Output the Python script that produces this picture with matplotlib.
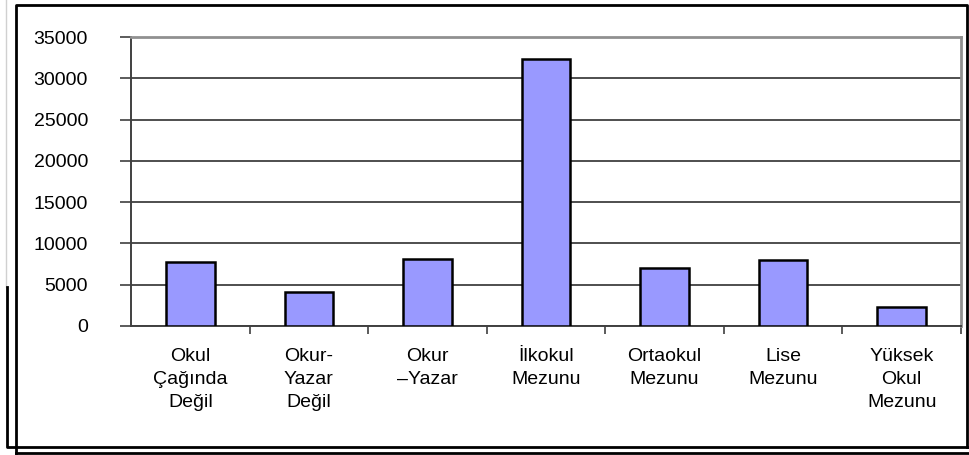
import matplotlib
matplotlib.use("Agg")
import matplotlib.pyplot as plt
from matplotlib.lines import Line2D

# Data
categories = ["Okul\nÇağında\nDeğil", "Okur-\nYazar\nDeğil", "Okur\n–Yazar",
              "İlkokul\nMezunu", "Ortaokul\nMezunu", "Lise\nMezunu",
              "Yüksek\nOkul\nMezunu"]
values = [7800, 4150, 8100, 32300, 7050, 7950, 2350]
yticks = [0, 5000, 10000, 15000, 20000, 25000, 30000, 35000]

plt.rcParams['font.family'] = ['Liberation Sans', 'DejaVu Sans']

W, H = 969, 455
fig = plt.figure(figsize=(W / 100, H / 100), dpi=100)
ax = fig.add_axes([131 / W, 1 - 326 / H, (961 - 131) / W, (326 - 37) / H])

x = list(range(len(values)))
ax.bar(x, values, width=0.41, color="#9999FF", edgecolor="black", linewidth=1.8, zorder=3)

ax.set_xlim(-0.5, len(values) - 0.5)
ax.set_ylim(0, 35000)
ax.set_yticks(yticks)
ax.set_yticklabels([str(v) for v in yticks], fontsize=14)
ax.yaxis.grid(True, color="#303030", linewidth=1.2, zorder=0)

# category labels centred in each slot, ticks on slot boundaries
ax.set_xticks([i + 0.5 for i in range(len(values) - 1)] + [len(values) - 0.5])
ax.set_xticklabels([])
ax.set_xticks(x, minor=True)
ax.set_xticklabels(categories, minor=True, fontsize=14, linespacing=1.45, va="top")
ax.tick_params(axis="x", which="minor", length=0, pad=16)
ax.tick_params(axis="x", which="major", direction="out", length=6, width=1.2, color="#404040")
ax.tick_params(axis="y", direction="out", length=8, width=1.2, color="#404040", pad=23)

ax.spines["left"].set_color("#404040")
ax.spines["bottom"].set_color("#404040")
ax.spines["left"].set_linewidth(1.4)
ax.spines["bottom"].set_linewidth(1.4)
ax.spines["top"].set_color("#909090")
ax.spines["right"].set_color("#909090")
ax.spines["top"].set_linewidth(2)
ax.spines["right"].set_linewidth(2)


# outer frames drawn in pixel coordinates
def line(xs, ys, color="black", lw=2):
    fig.add_artist(Line2D([v / W for v in xs], [1 - v / H for v in ys],
                         transform=fig.transFigure, color=color, linewidth=lw))


line([16, 969], [453, 453], lw=2)
line([16, 16, 967, 967], [453, 5, 5, 447], lw=2)
line([6, 6], [0, 287], color="#d0d0d0", lw=1)
line([7, 7, 969], [287, 447, 447], lw=2)

fig.savefig("out.png", dpi=100)
